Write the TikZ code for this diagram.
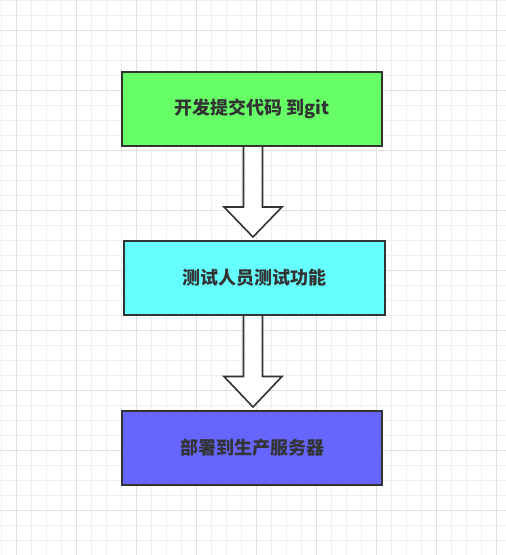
\documentclass[tikz,border=0pt]{standalone}
\usepackage{fontspec}
\newfontfamily\cjk{Noto Sans CJK SC}
\usetikzlibrary{calc,backgrounds}
\definecolor{gridminor}{HTML}{EFEFEF}
\definecolor{gridmajor}{HTML}{E0E0E0}
\definecolor{edgecol}{HTML}{333333}
\definecolor{greenbox}{HTML}{66FF66}
\definecolor{cyanbox}{HTML}{66FFFF}
\definecolor{bluebox}{HTML}{6666FF}
\tikzset{
  stepbox/.style={draw=edgecol, line width=2pt, minimum width=260pt, minimum height=74pt,
    inner sep=0pt, text=edgecol, font=\cjk\bfseries\fontsize{18}{22}\selectfont},
  blockarrow/.style={draw=edgecol, line width=1.6pt, fill=white, line join=miter},
}
\begin{document}
\begin{tikzpicture}[x=1pt,y=-1pt]
\useasboundingbox (0,0) rectangle (506,555);

\node[stepbox, fill=greenbox] (b1) at (252,109) {开发提交代码 到git};
\node[stepbox, fill=cyanbox, minimum width=261pt] (b2) at (254.5,278) {测试人员测试功能};
\node[stepbox, fill=bluebox] (b3) at (252,448) {部署到生产服务器};

\begin{pgfonlayer}{background}
\fill[white] (0,0) rectangle (506,555);
\foreach \i in {0,...,33} \draw[gridminor, line width=1pt] (1.5+15*\i,0) -- (1.5+15*\i,555);
\foreach \i in {0,...,37} \draw[gridminor, line width=1pt] (0,0.5+15*\i) -- (506,0.5+15*\i);
\foreach \i in {0,...,8} \draw[gridmajor, line width=1pt] (16.5+60*\i,0) -- (16.5+60*\i,555);
\foreach \i in {0,...,8} \draw[gridmajor, line width=1pt] (0,30.5+60*\i) -- (506,30.5+60*\i);

% arrow 1: from b1 to b2
\coordinate (a1s) at ($(b1.south)+(1,0)$);
\coordinate (a1t) at ($(a1s |- b2.north)+(0,-3)$);
\draw[blockarrow] ($(a1s)+(-9.5,0)$) -- ($(a1t)+(-9.5,-30)$) -- ($(a1t)+(-29,-30)$) -- (a1t)
  -- ($(a1t)+(29,-30)$) -- ($(a1t)+(9.5,-30)$) -- ($(a1s)+(9.5,0)$);
% arrow 2: from b2 to b3
\coordinate (a2s) at ($(a1s |- b2.south)$);
\coordinate (a2t) at ($(a1s |- b3.north)+(0,-3)$);
\draw[blockarrow] ($(a2s)+(-9.5,0)$) -- ($(a2t)+(-9.5,-30.5)$) -- ($(a2t)+(-29,-30.5)$) -- (a2t)
  -- ($(a2t)+(29,-30.5)$) -- ($(a2t)+(9.5,-30.5)$) -- ($(a2s)+(9.5,0)$);
\end{pgfonlayer}
\end{tikzpicture}
\end{document}
